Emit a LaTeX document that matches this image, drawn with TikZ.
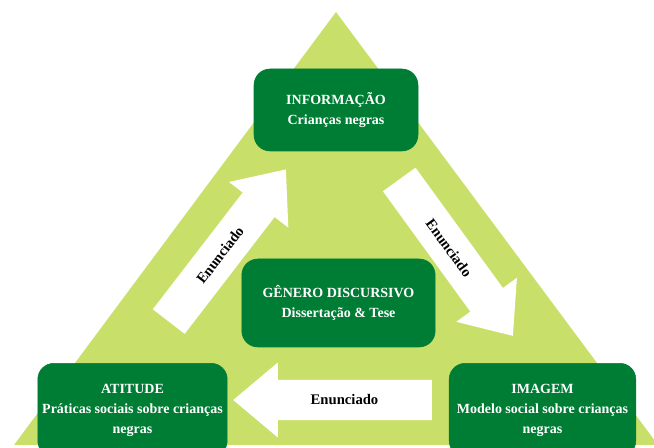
\documentclass[tikz,border=0pt]{standalone}
\usepackage{fontspec}
\setmainfont{Liberation Serif}
\usetikzlibrary{shapes.arrows}
\definecolor{verdeclaro}{RGB}{200,224,106}
\definecolor{verdeescuro}{RGB}{0,125,52}

\begin{document}
\begin{tikzpicture}[
      x=0.75pt, y=-0.75pt,
      caixa/.style={draw=verdeescuro, fill=verdeescuro, rounded corners=12pt, text=white, align=center, font=\fontsize{10.5}{15}\selectfont\bfseries}, % caixas verdes com texto branco
      seta/.style={single arrow, fill=white, minimum width=56pt, single arrow head extend=13pt, single arrow tip angle=80, inner xsep=2pt, inner ysep=11pt, font=\fontsize{11}{13}\selectfont\bfseries} % setas brancas
    ]
    \useasboundingbox (0,0) rectangle (654,448);
    % Triangulo de fundo
    \fill [verdeclaro] (336,12) -- (658,445) -- (14,445) -- cycle;
    % Caixas dos vertices e do centro
    \node [caixa, minimum width=123pt, minimum height=61.5pt] (info) at (336,110) {INFORMAÇÃO\\Crianças negras};
    \node [caixa, minimum width=145pt, minimum height=66pt] (genero) at (338.5,303) {GÊNERO DISCURSIVO\\Dissertação \& Tese};
    \node [caixa, minimum width=142pt, minimum height=70pt] (atitude) at (132.5,410) {ATITUDE\\Práticas sociais sobre crianças\\negras};
    \node [caixa, minimum width=140pt, minimum height=70pt] (imagem) at (542.5,410) {IMAGEM\\Modelo social sobre crianças\\negras};
    % Setas entre as caixas
    \node [seta, minimum height=144pt, rotate=52.4] (enun1) at (220,255) {Enunciado}; % atitude -> info
    \node [seta, minimum height=145pt, rotate=-54] (enun2) at (449,248) {Enunciado}; % info -> imagem
    \node [seta, minimum height=149pt, shape border rotate=180] (enun3) at (344.5,400) {Enunciado}; % imagem -> atitude
\end{tikzpicture}
\end{document}
